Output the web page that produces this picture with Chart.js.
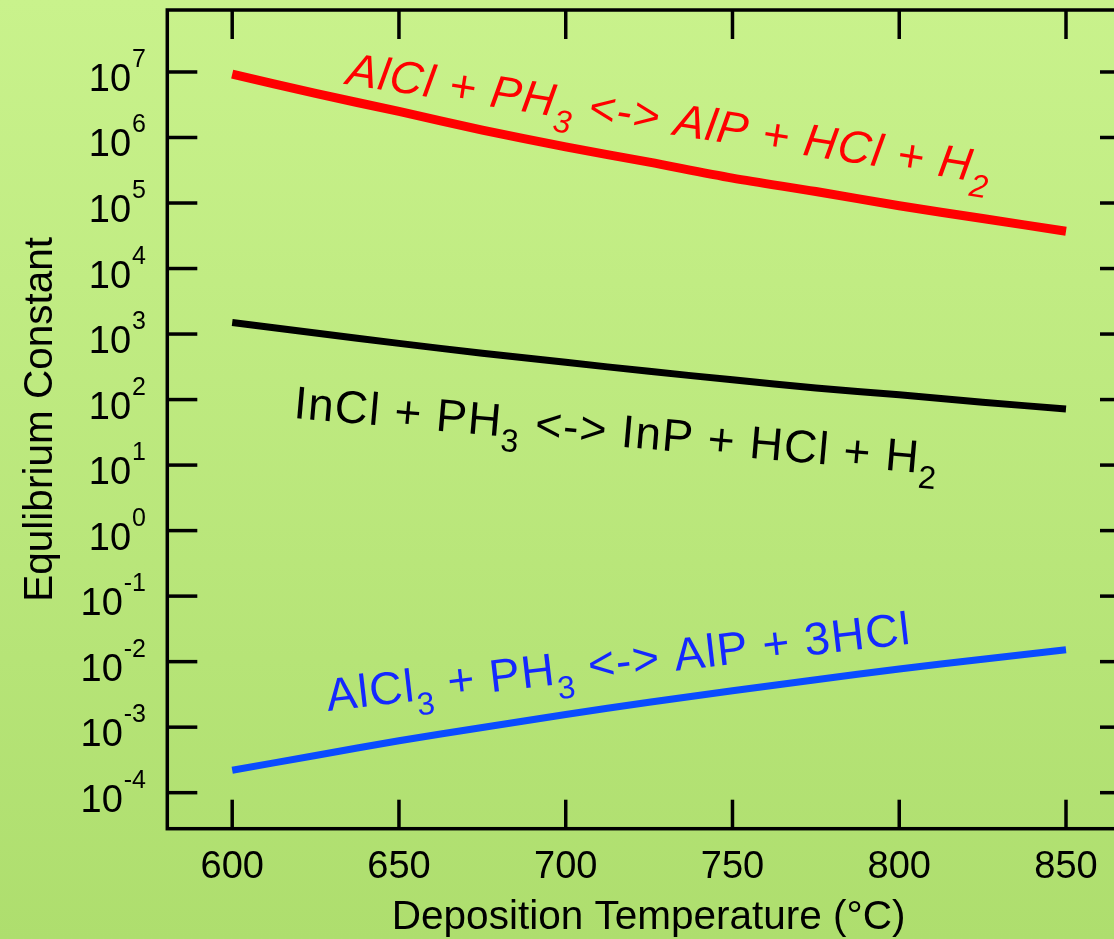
<!DOCTYPE html>
<html lang="en">
<head>
    <meta charset="UTF-8">
    <title>Equilibrium Constant vs Deposition Temperature</title>
    <style>
        html, body {
            margin: 0;
            padding: 0;
            overflow: hidden;
        }
        body {
            width: 1114px;
            height: 939px;
            background: linear-gradient(#c9f28c, #aede6e);
        }
        .chart-box {
            width: 1140px;
            height: 939px;
        }
    </style>
</head>
<body>
    <div class="chart-box">
        <canvas id="eqChart" width="1140" height="939"></canvas>
    </div>

    <script src="https://cdn.jsdelivr.net/npm/chart.js"></script>
    <script>
        // Data (temperature in deg C, K on log scale)
        const temps = [600, 625, 650, 675, 700, 725, 750, 775, 800, 825, 850];
        const alclK = [9.3e6, 4.7e6, 2.5e6, 1.3e6, 7.2e5, 4.2e5, 2.4e5, 1.5e5, 9.1e4, 5.8e4, 3.7e4];
        const inclK = [1500, 1040, 720, 510, 370, 270, 200, 150, 118, 91, 72];
        const alcl3K = [2.2e-4, 3.7e-4, 6.2e-4, 9.9e-4, 1.56e-3, 2.4e-3, 3.6e-3, 5.3e-3, 7.7e-3, 1.09e-2, 1.52e-2];

        const tempTicks = [600, 650, 700, 750, 800, 850];
        const decades = [-4, -3, -2, -1, 0, 1, 2, 3, 4, 5, 6, 7];

        // reaction labels: [text, isSubscript]
        const alclLabel = [['AlCl + PH', 0], ['3', 1], [' <-> AlP + HCl + H', 0], ['2', 1]];
        const inclLabel = [['InCl + PH', 0], ['3', 1], [' <-> InP + HCl + H', 0], ['2', 1]];
        const alcl3Label = [['AlCl', 0], ['3', 1], [' + PH', 0], ['3', 1], [' <-> AlP + 3HCl', 0]];

        const FONT = '"Liberation Sans", Arial, sans-serif';

        function drawFormula(ctx, parts, x, y, deg, color, italic, size) {
            ctx.save();
            ctx.translate(x, y);
            ctx.rotate(deg * Math.PI / 180);
            ctx.fillStyle = color;
            ctx.textAlign = 'left';
            ctx.textBaseline = 'alphabetic';
            ctx.letterSpacing = '1.2px';
            let cx = 0;
            parts.forEach(([txt, sub]) => {
                const s = sub ? Math.round(size * 0.7) : size;
                ctx.font = (italic ? 'italic ' : '') + s + 'px ' + FONT;
                ctx.fillText(txt, cx, sub ? size * 0.32 : 0);
                cx += ctx.measureText(txt).width;
            });
            ctx.restore();
        }

        const framePlugin = {
            id: 'frame',
            afterDraw(chart) {
                const ctx = chart.ctx;
                const a = chart.chartArea;
                const x = chart.scales.x;
                const y = chart.scales.y;
                ctx.save();
                ctx.strokeStyle = '#000';
                ctx.lineWidth = 3.5;
                ctx.lineCap = 'butt';
                ctx.strokeRect(a.left, a.top, a.right - a.left, a.bottom - a.top);

                const seg = (x1, y1, x2, y2) => {
                    ctx.beginPath();
                    ctx.moveTo(x1, y1);
                    ctx.lineTo(x2, y2);
                    ctx.stroke();
                };

                // inward ticks, all four sides
                ctx.fillStyle = '#000';
                ctx.textAlign = 'center';
                ctx.textBaseline = 'alphabetic';
                ctx.font = '38px ' + FONT;
                tempTicks.forEach(t => {
                    const px = x.getPixelForValue(t);
                    seg(px, a.bottom, px, a.bottom - 29);
                    seg(px, a.top, px, a.top + 29);
                    ctx.fillText(String(t), px, 878);
                });

                decades.forEach(d => {
                    const py = y.getPixelForValue(Math.pow(10, d));
                    seg(a.left, py, a.left + 30, py);
                    seg(a.right, py, a.right - 30, py);
                    ctx.font = '25px ' + FONT;
                    const exp = String(d);
                    const ew = ctx.measureText(exp).width;
                    ctx.textAlign = 'left';
                    ctx.fillText(exp, 146 - ew, py - 5);
                    ctx.font = '38px ' + FONT;
                    ctx.textAlign = 'right';
                    ctx.fillText('10', 146 - ew - 1, py + 19);
                });

                // axis titles
                ctx.font = '40.5px ' + FONT;
                ctx.textAlign = 'center';
                ctx.fillText('Deposition Temperature (\u00B0C)', (a.left + a.right) / 2, 929);
                ctx.save();
                ctx.translate(52, (a.top + a.bottom) / 2);
                ctx.rotate(-Math.PI / 2);
                ctx.fillText('Equlibrium Constant', 0, 0);
                ctx.restore();
                ctx.restore();

                // reaction labels
                drawFormula(ctx, alclLabel, 345, 84, 8.8, '#ff0000', true, 46);
                drawFormula(ctx, inclLabel, 293, 418, 5.0, '#000000', false, 46);
                drawFormula(ctx, alcl3Label, 328, 711, -6.6, '#1428ff', false, 46);
            }
        };

        new Chart(document.getElementById('eqChart'), {
            type: 'line',
            data: {
                labels: temps,
                datasets: [
                    { label: 'AlCl', data: alclK, borderColor: '#ff0000', borderWidth: 9 },
                    { label: 'InCl', data: inclK, borderColor: '#000000', borderWidth: 7 },
                    { label: 'AlCl3', data: alcl3K, borderColor: '#0a4cff', borderWidth: 7 }
                ].map(ds => Object.assign(ds, {
                    data: ds.data.map((v, i) => ({ x: temps[i], y: v })),
                    pointRadius: 0,
                    fill: false,
                    tension: 0.3
                }))
            },
            options: {
                responsive: false,
                animation: false,
                layout: {
                    padding: { left: 167.3, right: 10, top: 10, bottom: 110.3 }
                },
                plugins: {
                    legend: { display: false },
                    tooltip: { enabled: false }
                },
                scales: {
                    x: { type: 'linear', display: false, min: 580.54, max: 869.19 },
                    y: { type: 'logarithmic', display: false, min: 2.82e-5, max: 8.83e7 }
                }
            },
            plugins: [framePlugin]
        });
    </script>
</body>
</html>
